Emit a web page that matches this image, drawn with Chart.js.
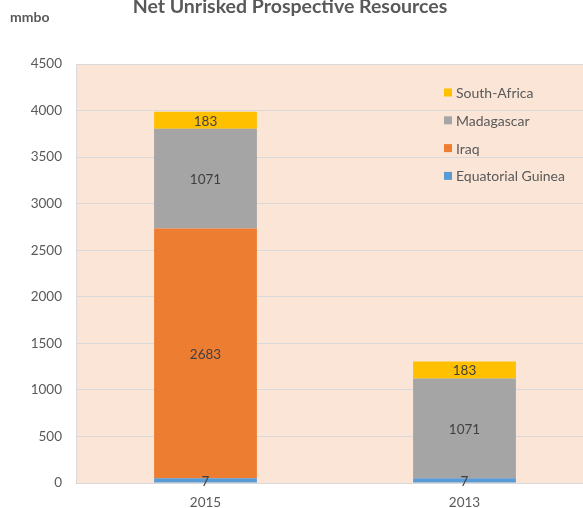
<!DOCTYPE html>
<html>
<head>
<meta charset="utf-8">
<script src="https://cdn.jsdelivr.net/npm/chart.js@4.4.1/dist/chart.umd.min.js"></script>
<style>
  html, body { margin: 0; padding: 0; overflow: hidden; background: #fff; }
</style>
</head>
<body>
<canvas id="resources-chart" width="600" height="508"></canvas>
<script>
// data
const years = ['2015', '2013'];
const eqGuinea = [50, 50];          // bar height as drawn
const eqGuineaPrinted = ['7', '7']; // value printed on the bar
const iraq = [2683, 0];
const madagascar = [1071, 1071];
const southAfrica = [183, 183];
const yTicks = [0, 500, 1000, 1500, 2000, 2500, 3000, 3500, 4000, 4500];

const FONT = 'Lato, "Open Sans", sans-serif';
const TEXT = '#595959';

// peach plot area + white page
const bgPlugin = {
    id: 'bg',
    beforeDraw(chart) {
        const { ctx, chartArea: a } = chart;
        ctx.save();
        ctx.fillStyle = '#fff';
        ctx.fillRect(0, 0, chart.width, chart.height);
        ctx.fillStyle = '#FBE5D6';
        ctx.fillRect(a.left, a.top, a.right - a.left, a.bottom - a.top);
        ctx.restore();
    }
};

// numbers in the middle of each segment
const labelPlugin = {
    id: 'segLabels',
    afterDatasetsDraw(chart) {
        const ctx = chart.ctx;
        ctx.save();
        ctx.font = '13.5px ' + FONT;
        ctx.fillStyle = '#404040';
        ctx.textAlign = 'center';
        ctx.textBaseline = 'middle';
        chart.data.datasets.forEach((ds, i) => {
            chart.getDatasetMeta(i).data.forEach((bar, j) => {
                if (!ds.data[j]) return;
                const txt = ds.printed ? ds.printed[j] : String(ds.data[j]);
                ctx.fillText(txt, bar.x, (bar.y + bar.base) / 2 + 1);
            });
        });
        ctx.restore();
    }
};

// title, unit and legend drawn in Excel style
const decoPlugin = {
    id: 'deco',
    afterDraw(chart) {
        const ctx = chart.ctx;
        ctx.save();
        ctx.fillStyle = TEXT;
        ctx.textBaseline = 'alphabetic';
        ctx.textAlign = 'center';
        ctx.font = 'bold 19.5px ' + FONT;
        ctx.fillText('Net Unrisked Prospective Resources', 290, 13);
        ctx.textAlign = 'left';
        ctx.font = 'bold 14px ' + FONT;
        ctx.fillText('mmbo', 10, 22);

        ctx.font = '14px ' + FONT;
        ctx.textBaseline = 'middle';
        const ds = chart.data.datasets.slice().reverse();
        ds.forEach((d, i) => {
            const y = 92.5 + i * 27.8;
            ctx.fillStyle = d.backgroundColor;
            ctx.fillRect(444, y - 4, 8, 8);
            ctx.fillStyle = TEXT;
            ctx.fillText(d.label, 456, y + 1);
        });
        ctx.restore();
    }
};

const canvas = document.getElementById('resources-chart');
const resources_chart = new Chart(canvas, {
    type: 'bar',
    data: {
        labels: years,
        datasets: [
            { label: 'Equatorial Guinea', data: eqGuinea, printed: eqGuineaPrinted, backgroundColor: '#5B9BD5' },
            { label: 'Iraq', data: iraq, backgroundColor: '#ED7D31' },
            { label: 'Madagascar', data: madagascar, backgroundColor: '#A5A5A5' },
            { label: 'South-Africa', data: southAfrica, backgroundColor: '#FFC000' },
        ]
    },
    options: {
        responsive: false,
        animation: false,
        layout: { padding: { top: 64, right: 6, left: 0, bottom: 0 } },
        datasets: {
            bar: { categoryPercentage: 1, barPercentage: 0.397, borderWidth: 0 }
        },
        plugins: {
            legend: { display: false },
            title: { display: false },
            tooltip: { enabled: false }
        },
        scales: {
            x: {
                stacked: true,
                grid: { display: false },
                border: { display: true, color: '#d9d9d9' },
                ticks: { color: TEXT, font: { family: FONT, size: 13.5 }, padding: 4 },
                afterFit(s) { s.height = 25; }
            },
            y: {
                stacked: true,
                min: 0,
                max: 4500,
                afterBuildTicks(s) { s.ticks = yTicks.map(v => ({ value: v })); },
                grid: { color: '#d9d9d9', drawTicks: false },
                border: { display: true, color: '#d9d9d9' },
                ticks: {
                    color: TEXT,
                    font: { family: FONT, size: 13.5 },
                    padding: 14,
                    callback: v => String(v)
                },
                afterFit(s) { s.width = 76; }
            }
        }
    },
    plugins: [bgPlugin, labelPlugin, decoPlugin]
});
</script>
</body>
</html>
